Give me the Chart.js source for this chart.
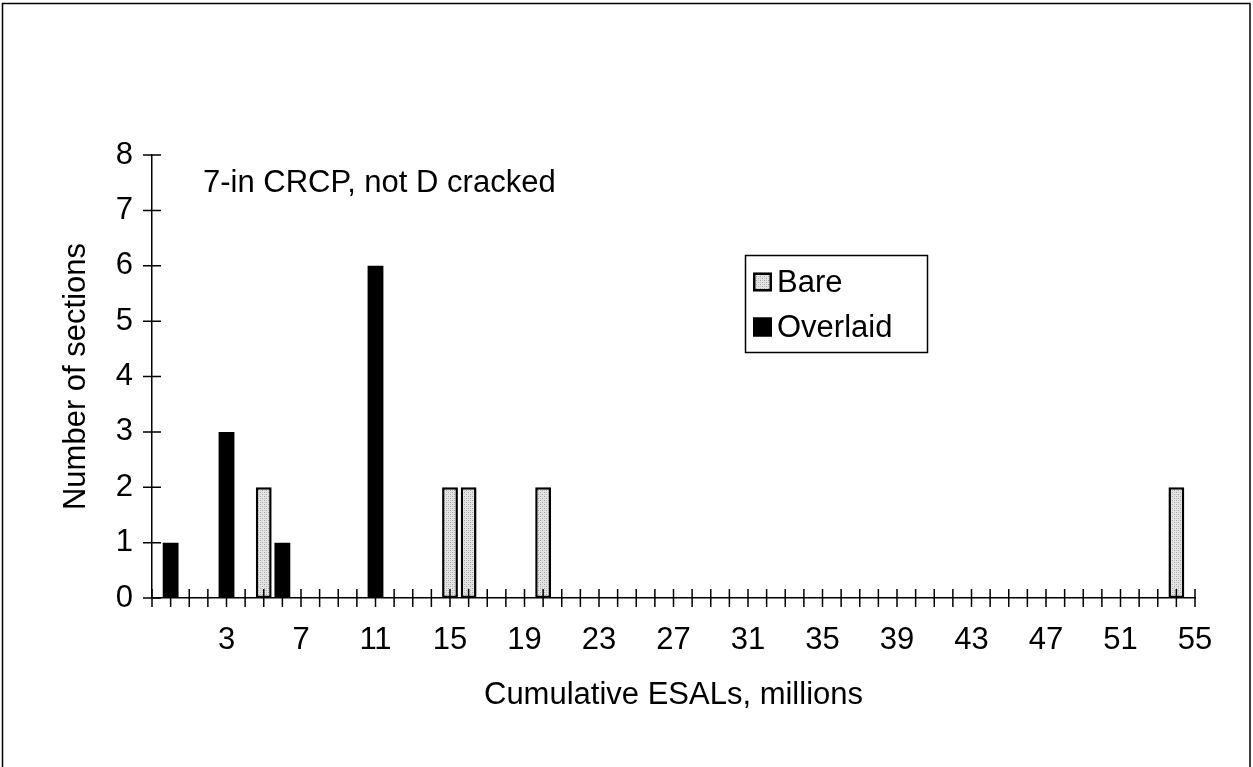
<!DOCTYPE html>
<html>
<head>
<meta charset="utf-8">
<script src="https://cdn.jsdelivr.net/npm/chart.js@4/dist/chart.umd.min.js"></script>
<style>
  html, body { margin: 0; padding: 0; background: #fff; }
  #wrap { position: relative; width: 1253px; height: 767px; }
  canvas { display: block; }
</style>
</head>
<body>
<div id="wrap"><canvas id="c" width="1253" height="767"></canvas></div>
<script>
// ---- data ----
const categories = ['', '0', '1', '2', '3', '4', '5', '6', '7', '8', '9', '10', '11', '12', '13', '14', '15', '16', '17', '18', '19', '20', '21', '22', '23', '24', '25', '26', '27', '28', '29', '30', '31', '32', '33', '34', '35', '36', '37', '38', '39', '40', '41', '42', '43', '44', '45', '46', '47', '48', '49', '50', '51', '52', '53', '54', '55'];
const shownTickLabels = ['3', '7', '11', '15', '19', '23', '27', '31', '35', '39', '43', '47', '51', '55'];
const bareX = ['5', '15', '16', '20', '54'];
const bareY = [2, 2, 2, 2, 2];
const overlaidX = ['0', '3', '6', '11'];
const overlaidY = [1, 3, 1, 6];
const seriesNames = ['Bare', 'Overlaid'];
const yTicksMax = 8;
const xTitle = 'Cumulative ESALs, millions';
const yTitle = 'Number of sections';
const annotation = '7-in CRCP, not D cracked';

// ---- styling ----
const FONT = 'Liberation Sans, Arial, Helvetica, sans-serif';
const FS = 31;
Chart.defaults.font.family = FONT;
Chart.defaults.font.size = FS;
Chart.defaults.color = '#000';

function stipple() {
  const p = document.createElement('canvas');
  p.width = 4; p.height = 4;
  const g = p.getContext('2d');
  g.fillStyle = '#e4e4e4'; g.fillRect(0, 0, 4, 4);
  g.fillStyle = '#a4a4a4';
  g.fillRect(0, 0, 1, 1); g.fillRect(2, 2, 1, 1);
  g.fillStyle = '#c8c8c8';
  g.fillRect(2, 0, 1, 1); g.fillRect(0, 2, 1, 1);
  return document.getElementById('c').getContext('2d').createPattern(p, 'repeat');
}
const barePattern = stipple();

const extras = {
  id: 'extras',
  afterDraw(chart) {
    const ctx = chart.ctx;
    const xs = chart.scales.x, ys = chart.scales.y;
    const a = chart.chartArea;
    ctx.save();
    ctx.strokeStyle = '#000';
    ctx.lineWidth = 1.5;
    // crossing tick marks
    ctx.beginPath();
    ys.ticks.forEach((t, i) => {
      const y = ys.getPixelForTick(i);
      ctx.moveTo(a.left - 9, y); ctx.lineTo(a.left + 9, y);
    });
    xs.ticks.forEach((t, i) => {
      const x = xs.getPixelForTick(i);
      ctx.moveTo(x, a.bottom - 9); ctx.lineTo(x, a.bottom + 9);
    });
    ctx.stroke();
    // annotation
    ctx.fillStyle = '#000';
    ctx.font = FS + 'px ' + FONT;
    ctx.textAlign = 'left';
    ctx.textBaseline = 'middle';
    ctx.fillText(annotation, 203, 183);
    // legend box
    const lx = 745, ly = 255, lw = 182, lh = 97;
    ctx.lineWidth = 1.5;
    ctx.strokeRect(lx + 0.5, ly + 0.5, lw, lh);
    chart.data.datasets.forEach((ds, i) => {
      const cy = ly + 27 + i * 45;
      const sx = lx + 8, s = 19;
      ctx.fillStyle = ds.backgroundColor;
      ctx.fillRect(sx, cy - s / 2, s, s);
      ctx.lineWidth = 2.5;
      ctx.strokeStyle = '#000';
      ctx.strokeRect(sx + 1.25, cy - s / 2 + 1.25, s - 2.5, s - 2.5);
      ctx.fillStyle = '#000';
      ctx.fillText(ds.label, sx + s + 5, cy + 1);
    });
    // outer frame
    ctx.lineWidth = 1.5;
    ctx.strokeStyle = '#000';
    ctx.strokeRect(2.5, 3.5, 1247.5, 800);
    ctx.restore();
  }
};

new Chart(document.getElementById('c'), {
  type: 'bar',
  data: {
    labels: categories,
    datasets: [
      {
        label: seriesNames[0],
        data: bareX.map((x, i) => ({ x: x, y: bareY[i] })),
        backgroundColor: barePattern,
        borderColor: '#000',
        borderWidth: 2.5,
        borderSkipped: false
      },
      {
        label: seriesNames[1],
        data: overlaidX.map((x, i) => ({ x: x, y: overlaidY[i] })),
        backgroundColor: '#000',
        borderColor: '#000',
        borderWidth: 0
      }
    ]
  },
  options: {
    responsive: false,
    animation: false,
    events: [],
    layout: { padding: { left: 0, right: 58, top: 155, bottom: 0 } },
    datasets: { bar: { grouped: false, categoryPercentage: 1, barPercentage: 0.85 } },
    plugins: { legend: { display: false }, tooltip: { enabled: false } },
    scales: {
      x: {
        type: 'category',
        offset: false,
        grid: { display: false, drawTicks: false },
        border: { display: true, color: '#000', width: 1.5 },
        ticks: {
          autoSkip: false, maxRotation: 0, minRotation: 0, padding: 24,
          callback: function (v, i) {
            const l = this.getLabelForValue(v);
            return shownTickLabels.includes(l) ? l : '';
          }
        },
        title: { display: true, text: xTitle, padding: { top: 0, bottom: 53 } },
        afterFit: s => { s.height = 169; }
      },
      y: {
        min: 0, max: yTicksMax,
        grid: { display: false, drawTicks: false },
        border: { display: true, color: '#000', width: 1.5 },
        ticks: { stepSize: 1, padding: 19 },
        title: { display: true, text: yTitle, padding: { top: 58, bottom: 0 } },
        afterFit: s => { s.width = 152; }
      }
    }
  },
  plugins: [extras]
});
</script>
</body>
</html>
